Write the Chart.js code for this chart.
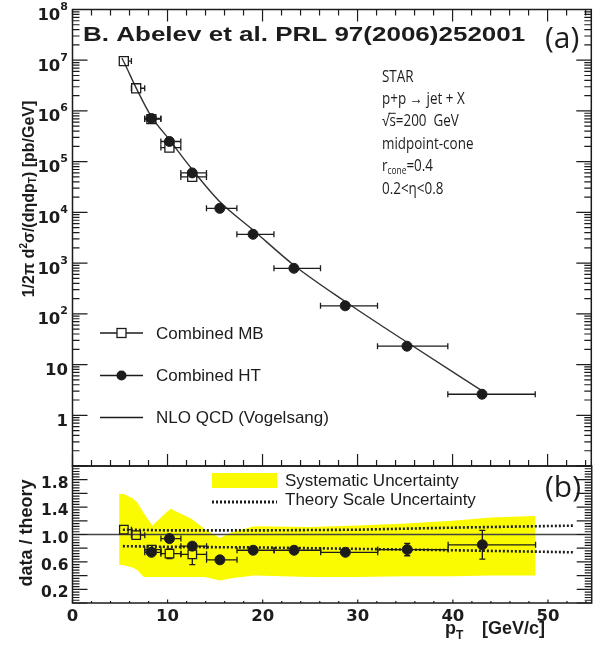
<!DOCTYPE html>
<html>
<head>
<meta charset="utf-8">
<script src="https://cdn.jsdelivr.net/npm/chart.js@4.4.1/dist/chart.umd.min.js"></script>
<style>
  html, body { margin: 0; padding: 0; background: #fff; }
  #wrap { position: relative; width: 599px; height: 647px; }
  #wrap canvas { position: absolute; left: 0; top: 0; }
</style>
</head>
<body>
<div id="wrap">
  <canvas id="topChart" width="599" height="647"></canvas>
  <canvas id="ratioChart" width="599" height="647"></canvas>
</div>
<script>
// ---- data ----
// Combined MB (open squares)
const mbPt = [5.4, 6.7, 8.3, 10.2, 12.6];
const mbLo = [5.0, 6.2, 7.6, 9.3, 11.4];
const mbHi = [6.2, 7.6, 9.3, 11.4, 14.1];
const mbXsec = [9.6e6, 2.8e6, 6.9e5, 1.9e5, 5.0e4];
const mbRatio = [1.07, 0.99, 0.78, 0.72, 0.71];
const mbRatioErr = [0.02, 0.03, 0.06, 0.07, 0.15];

// Combined HT (filled circles)
const htPt = [8.3, 10.2, 12.6, 15.5, 19.0, 23.3, 28.7, 35.2, 43.1];
const htLo = [7.6, 9.3, 11.4, 14.1, 17.3, 21.2, 26.1, 32.1, 39.5];
const htHi = [9.3, 11.4, 14.1, 17.3, 21.2, 26.1, 32.1, 39.5, 48.7];
const htXsec = [7.1e5, 2.5e5, 6.0e4, 1.2e4, 3.7e3, 790, 144, 23, 2.6];
const htRatio = [0.74, 0.94, 0.83, 0.63, 0.77, 0.77, 0.74, 0.78, 0.85];
const htRatioErr = [0.06, 0.03, 0.03, 0.03, 0.03, 0.03, 0.03, 0.09, 0.21];

// NLO QCD curve
const nloPt = [5.2, 5.5, 6.8, 8.2, 10.2, 12.5, 15.4, 19.0, 23.3, 28.7, 35.2, 43.4];
const nloXsec = [1.1e7, 8.5e6, 2.6e6, 8.3e5, 2.7e5, 7.4e4, 1.7e4, 4.5e3, 910, 175, 27.5, 2.8];

// systematic uncertainty band (ratio panel)
const sysPt = [4.9, 5.4, 6.3, 6.8, 7.5, 8.4, 10.3, 12.5, 13.9, 15.5, 16.7, 19.1, 25, 30, 35, 40, 44, 48.7];
const sysUp = [1.59, 1.59, 1.53, 1.47, 1.31, 1.13, 1.375, 1.23, 1.08, 0.95, 1.03, 1.12, 1.11, 1.13, 1.16, 1.20, 1.25, 1.27];
const sysDn = [0.56, 0.55, 0.52, 0.48, 0.38, 0.38, 0.38, 0.38, 0.38, 0.33, 0.36, 0.40, 0.38, 0.38, 0.39, 0.39, 0.40, 0.40];

// theory scale uncertainty (dotted)
const scalePt = [5.3, 10, 20, 30, 40, 52.8];
const scaleUp = [1.07, 1.06, 1.06, 1.07, 1.10, 1.13];
const scaleDn = [0.83, 0.82, 0.81, 0.79, 0.77, 0.74];

// axes
const xTicks = [0, 10, 20, 30, 40, 50];
const xLabels = ['0', '10', '20', '30', '40', '50'];
const topYTicks = [1, 10, 1e2, 1e3, 1e4, 1e5, 1e6, 1e7, 1e8];
const topYLabels = ['1', '10', '10^2', '10^3', '10^4', '10^5', '10^6', '10^7', '10^8'];
const ratioYTicks = [0.2, 0.6, 1.0, 1.4, 1.8];
const ratioYLabels = ['0.2', '0.6', '1.0', '1.4', '1.8'];

const ink = '#1c1c1c';
const yellow = 'rgb(250,250,0)';

function points(xs, ys, lo, hi, err) {
  return xs.map((x, i) => {
    const p = { x: x, y: ys[i] };
    if (lo) { p.xMin = lo[i]; p.xMax = hi[i]; }
    if (err) { p.yMin = ys[i] - err[i]; p.yMax = ys[i] + err[i]; }
    return p;
  });
}

// draw text pieces one after another (for sub/superscripts)
function drawRich(ctx, parts, x, y) {
  let cx = x;
  parts.forEach(p => {
    ctx.font = p.f;
    ctx.fillText(p.t, cx, y + (p.dy || 0));
    cx += ctx.measureText(p.t).width;
  });
  return cx - x;
}
function richWidth(ctx, parts) {
  let w = 0;
  parts.forEach(p => { ctx.font = p.f; w += ctx.measureText(p.t).width; });
  return w;
}
function squeezed(ctx, text, x, y, font, sx) {
  ctx.save();
  ctx.translate(x, y);
  ctx.scale(sx, 1);
  ctx.font = font;
  ctx.fillText(text, 0, 0);
  const w = ctx.measureText(text).width * sx;
  ctx.restore();
  return w;
}

// error bars drawn through the chart scales, with a gap for the marker
const errorBars = {
  id: 'errorBars',
  afterDatasetsDraw(chart) {
    const ctx = chart.ctx, xs = chart.scales.x, ys = chart.scales.y;
    ctx.save();
    ctx.strokeStyle = ink;
    ctx.lineWidth = 1.3;
    chart.data.datasets.forEach(ds => {
      if (!ds.errGap) return;
      const g = ds.errGap;
      ds.data.forEach(p => {
        const cx = xs.getPixelForValue(p.x), cy = ys.getPixelForValue(p.y);
        ctx.beginPath();
        if (p.xMin !== undefined) {
          const x1 = xs.getPixelForValue(p.xMin), x2 = xs.getPixelForValue(p.xMax);
          if (x1 < cx - g) { ctx.moveTo(x1, cy); ctx.lineTo(cx - g, cy); ctx.moveTo(x1, cy - 3); ctx.lineTo(x1, cy + 3); }
          if (x2 > cx + g) { ctx.moveTo(cx + g, cy); ctx.lineTo(x2, cy); ctx.moveTo(x2, cy - 3); ctx.lineTo(x2, cy + 3); }
        }
        if (p.yMin !== undefined) {
          const y1 = ys.getPixelForValue(p.yMin), y2 = ys.getPixelForValue(p.yMax);
          if (y1 > cy + g) { ctx.moveTo(cx, cy + g); ctx.lineTo(cx, y1); ctx.moveTo(cx - 3, y1); ctx.lineTo(cx + 3, y1); }
          if (y2 < cy - g) { ctx.moveTo(cx, cy - g); ctx.lineTo(cx, y2); ctx.moveTo(cx - 3, y2); ctx.lineTo(cx + 3, y2); }
        }
        ctx.stroke();
      });
    });
    ctx.restore();
  }
};

// ROOT style frame with inward ticks
function frameAndTicks(chart, yMajor, yMinor, yLen, xTop, xLen) {
  const ctx = chart.ctx, a = chart.chartArea, xs = chart.scales.x, ys = chart.scales.y;
  ctx.save();
  ctx.strokeStyle = ink;
  ctx.lineWidth = 1.2;
  ctx.beginPath();
  const yt = (vals, len) => vals.forEach(v => {
    const py = ys.getPixelForValue(v);
    if (py < a.top - 0.5 || py > a.bottom + 0.5) return;
    ctx.moveTo(a.left, py); ctx.lineTo(a.left + len, py);
    ctx.moveTo(a.right, py); ctx.lineTo(a.right - len, py);
  });
  yt(yMajor, yLen[0]);
  yt(yMinor, yLen[1]);
  for (let v = 0; v <= 54; v += 2) {
    const px = xs.getPixelForValue(v);
    const len = v % 10 === 0 ? xLen[0] : xLen[1];
    ctx.moveTo(px, a.bottom); ctx.lineTo(px, a.bottom - len);
    if (xTop) { ctx.moveTo(px, a.top); ctx.lineTo(px, a.top + len); }
  }
  ctx.stroke();
  ctx.lineWidth = 1.5;
  ctx.strokeRect(a.left, a.top, a.right - a.left, a.bottom - a.top);
  ctx.restore();
}

// ---------------- top panel ----------------
const topDecor = {
  id: 'topDecor',
  afterDraw(chart) {
    const ctx = chart.ctx, ys = chart.scales.y;
    const major = [], minor = [];
    for (let k = -1; k <= 8; k++) {
      major.push(Math.pow(10, k));
      if (k < 8) for (let m = 2; m <= 9; m++) minor.push(m * Math.pow(10, k));
    }
    frameAndTicks(chart, major, minor, [15, 7], true, [12, 6]);

    ctx.save();
    ctx.fillStyle = ink;
    ctx.textBaseline = 'alphabetic';
    // y tick labels with superscripts
    topYTicks.forEach((v, i) => {
      const s = topYLabels[i].split('^');
      const parts = [{ t: s[0], f: 'bold 16.5px "DejaVu Sans"' }];
      if (s[1]) parts.push({ t: s[1], f: 'bold 11px "DejaVu Sans"', dy: -10 });
      const w = richWidth(ctx, parts);
      drawRich(ctx, parts, 68 - w, ys.getPixelForValue(v) + 10.5);
    });

    // y axis title
    ctx.save();
    ctx.translate(34, 199);
    ctx.rotate(-Math.PI / 2);
    const yt = [
      { t: '1/2\u03c0 d', f: 'bold 16px "Liberation Sans"' },
      { t: '2', f: 'bold 10px "Liberation Sans"', dy: -7 },
      { t: '\u03c3/(d\u03b7dp', f: 'bold 16px "Liberation Sans"' },
      { t: 'T', f: 'bold 10px "Liberation Sans"', dy: 2 },
      { t: ') [pb/GeV]', f: 'bold 16px "Liberation Sans"' }
    ];
    drawRich(ctx, yt, -richWidth(ctx, yt) / 2, 0);
    ctx.restore();

    // title
    squeezed(ctx, 'B. Abelev et al. PRL 97(2006)252001', 83, 41, 'bold 20px "Liberation Sans"', 1.3);
    ctx.font = '30px "Open Sans"';
    ctx.fillText('(a)', 545, 48);

    // STAR block
    const f = '16px "Open Sans"', sx = 0.84, x0 = 382, lh = 22.4;
    squeezed(ctx, 'STAR', x0, 81.5, f, sx);
    squeezed(ctx, 'p+p \u2192 jet + X', x0, 81.5 + lh, f, sx);
    let w = squeezed(ctx, '\u221a', x0, 81.5 + 2 * lh, f, sx);
    const ws = squeezed(ctx, 's', x0 + w, 81.5 + 2 * lh, f, sx);
    ctx.strokeStyle = ink; ctx.lineWidth = 1;
    ctx.beginPath(); ctx.moveTo(x0 + w - 1, 81.5 + 2 * lh - 13); ctx.lineTo(x0 + w + ws, 81.5 + 2 * lh - 13); ctx.stroke();
    squeezed(ctx, '=200  GeV', x0 + w + ws, 81.5 + 2 * lh, f, sx);
    squeezed(ctx, 'midpoint-cone', x0, 81.5 + 3 * lh, f, sx);
    w = squeezed(ctx, 'r', x0, 81.5 + 4 * lh, f, sx);
    w += squeezed(ctx, 'cone', x0 + w, 81.5 + 4 * lh + 3, '10px "Open Sans"', sx);
    squeezed(ctx, '=0.4', x0 + w, 81.5 + 4 * lh, f, sx);
    squeezed(ctx, '0.2<\u03b7<0.8', x0, 81.5 + 5 * lh, f, sx);

    // legend
    const rows = [333, 375.5, 417.5];
    const names = ['Combined MB', 'Combined HT', 'NLO QCD (Vogelsang)'];
    ctx.lineWidth = 1.3;
    ctx.beginPath();
    rows.forEach((ry, i) => {
      if (i === 0) { ctx.moveTo(100, ry); ctx.lineTo(117, ry); ctx.moveTo(126, ry); ctx.lineTo(143, ry); }
      else { ctx.moveTo(100, ry); ctx.lineTo(143, ry); }
    });
    ctx.stroke();
    ctx.strokeRect(117, rows[0] - 4.5, 9, 9);
    ctx.beginPath(); ctx.arc(121.5, rows[1], 5, 0, 2 * Math.PI); ctx.fill();
    ctx.font = '17px "Liberation Sans"';
    ctx.textBaseline = 'middle';
    names.forEach((n, i) => ctx.fillText(n, 156, rows[i] + 1));
    ctx.restore();
  }
};

new Chart(document.getElementById('topChart'), {
  type: 'line',
  data: {
    datasets: [
      {
        label: 'Combined HT',
        data: points(htPt, htXsec, htLo, htHi),
        showLine: false, pointStyle: 'circle', pointRadius: 5,
        pointBackgroundColor: ink, pointBorderColor: ink, pointBorderWidth: 1,
        errGap: 5, order: 1
      },
      {
        label: 'Combined MB',
        data: points(mbPt, mbXsec, mbLo, mbHi),
        showLine: false, pointStyle: 'rect', pointRadius: 6.4,
        pointBackgroundColor: 'rgba(0,0,0,0)', pointBorderColor: ink, pointBorderWidth: 1.3,
        errGap: 4.5, order: 2
      },
      {
        label: 'NLO QCD (Vogelsang)',
        data: points(nloPt, nloXsec),
        borderColor: '#333', borderWidth: 1.4, pointRadius: 0,
        cubicInterpolationMode: 'monotone', fill: false, order: 3
      }
    ]
  },
  options: {
    responsive: false,
    animation: false,
    events: [],
    layout: { padding: { top: 9.5, right: 2, bottom: 181, left: 0 } },
    plugins: { legend: { display: false }, tooltip: { enabled: false } },
    scales: {
      x: {
        type: 'linear', min: 0, max: 54.6, bounds: 'data',
        ticks: { display: false }, grid: { display: false }, border: { display: false },
        afterFit: s => { s.height = 0; }
      },
      y: {
        type: 'logarithmic', min: 0.1, max: 1e8, bounds: 'data',
        ticks: { display: false }, grid: { display: false }, border: { display: false },
        afterFit: s => { s.width = 72.5; }
      }
    }
  },
  plugins: [errorBars, topDecor]
});

// ---------------- ratio panel ----------------
const ratioDecor = {
  id: 'ratioDecor',
  afterDraw(chart) {
    const ctx = chart.ctx;
    const major = [], minor = [];
    for (let i = 0; i <= 10; i++) major.push(i * 0.2);
    for (let i = 0; i <= 50; i++) if (i % 5) minor.push(i * 0.04);
    frameAndTicks(chart, major, minor, [15, 7], false, [3.5, 2]);

    ctx.save();
    // legend
    ctx.fillStyle = yellow;
    ctx.fillRect(212, 473, 65, 15);
    ctx.strokeStyle = ink;
    ctx.lineWidth = 3;
    ctx.setLineDash([2, 2]);
    ctx.beginPath(); ctx.moveTo(212, 502); ctx.lineTo(277, 502); ctx.stroke();
    ctx.setLineDash([]);
    ctx.fillStyle = ink;
    ctx.font = '17px "Liberation Sans"';
    ctx.textBaseline = 'middle';
    ctx.fillText('Systematic Uncertainty', 285, 481);
    ctx.fillText('Theory Scale Uncertainty', 285, 500.5);
    ctx.textBaseline = 'alphabetic';
    ctx.font = '30px "Open Sans"';
    ctx.fillText('(b)', 545, 497);

    // axis titles
    ctx.save();
    ctx.translate(32, 533);
    ctx.rotate(-Math.PI / 2);
    ctx.font = 'bold 18px "Liberation Sans"';
    ctx.textAlign = 'center';
    ctx.fillText('data / theory', 0, 0);
    ctx.restore();

    drawRich(ctx, [
      { t: 'p', f: 'bold 18px "Liberation Sans"' },
      { t: 'T', f: 'bold 12px "Liberation Sans"', dy: 5 }
    ], 445, 634);
    ctx.font = 'bold 18px "Liberation Sans"';
    ctx.fillText('[GeV/c]', 482, 634);
    ctx.restore();
  }
};

new Chart(document.getElementById('ratioChart'), {
  type: 'line',
  data: {
    datasets: [
      {
        label: 'Combined HT',
        data: points(htPt, htRatio, htLo, htHi, htRatioErr),
        showLine: false, pointStyle: 'circle', pointRadius: 5,
        pointBackgroundColor: ink, pointBorderColor: ink, pointBorderWidth: 1,
        errGap: 5, order: 1
      },
      {
        label: 'Combined MB',
        data: points(mbPt, mbRatio, mbLo, mbHi, mbRatioErr),
        showLine: false, pointStyle: 'rect', pointRadius: 6,
        pointBackgroundColor: 'rgba(0,0,0,0)', pointBorderColor: ink, pointBorderWidth: 1.3,
        errGap: 4.2, order: 2
      },
      {
        label: 'unity',
        data: [{ x: 0, y: 1 }, { x: 54.6, y: 1 }],
        borderColor: '#444', borderWidth: 1.3, pointRadius: 0, fill: false, order: 3
      },
      {
        label: 'Theory Scale Uncertainty',
        data: points(scalePt, scaleUp),
        borderColor: ink, borderWidth: 2.6, borderDash: [2, 2], pointRadius: 0, fill: false, order: 4
      },
      {
        label: 'scale low',
        data: points(scalePt, scaleDn),
        borderColor: ink, borderWidth: 2.6, borderDash: [2, 2], pointRadius: 0, fill: false, order: 5
      },
      {
        label: 'Systematic Uncertainty',
        data: points(sysPt, sysUp),
        borderWidth: 0, borderColor: yellow, backgroundColor: yellow,
        pointRadius: 0, fill: '+1', order: 6
      },
      {
        label: 'sys low',
        data: points(sysPt, sysDn),
        borderWidth: 0, borderColor: yellow, pointRadius: 0, fill: false, order: 7
      }
    ]
  },
  options: {
    responsive: false,
    animation: false,
    events: [],
    layout: { padding: { top: 466, right: 2, bottom: 0, left: 0 } },
    plugins: { legend: { display: false }, tooltip: { enabled: false } },
    scales: {
      x: {
        type: 'linear', min: 0, max: 54.6, bounds: 'data',
        afterBuildTicks: s => { s.ticks = xTicks.map(v => ({ value: v })); },
        ticks: {
          callback: (v, i) => xLabels[i],
          font: { family: 'DejaVu Sans', weight: 'bold', size: 16.5 },
          color: ink, padding: 4, maxRotation: 0, autoSkip: false
        },
        grid: { display: false, drawTicks: false }, border: { display: false },
        afterFit: s => { s.height = 44; }
      },
      y: {
        type: 'linear', min: 0, max: 2.0, bounds: 'data',
        afterBuildTicks: s => { s.ticks = ratioYTicks.map(v => ({ value: v })); },
        ticks: {
          callback: (v, i) => ratioYLabels[i],
          font: { family: 'DejaVu Sans', weight: 'bold', size: 15.5 },
          color: ink, padding: 4, labelOffset: 4, autoSkip: false
        },
        grid: { display: false, drawTicks: false }, border: { display: false },
        afterFit: s => { s.width = 72.5; }
      }
    }
  },
  plugins: [errorBars, ratioDecor]
});
</script>
</body>
</html>
